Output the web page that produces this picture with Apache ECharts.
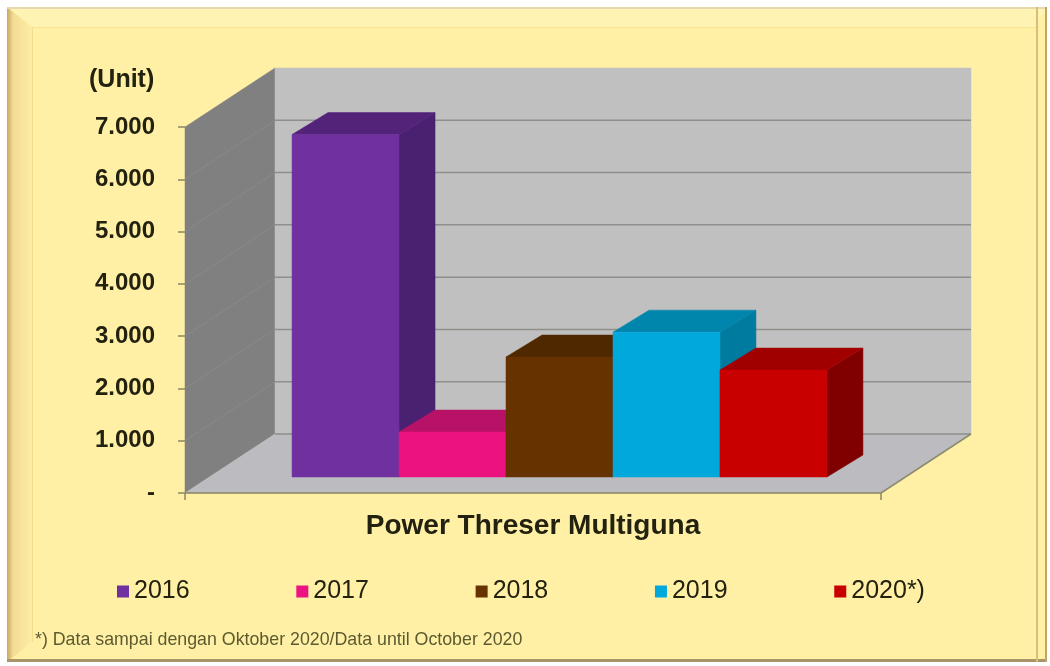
<!DOCTYPE html>
<html>
<head>
<meta charset="utf-8">
<style>html,body{margin:0;padding:0;background:#fff}#c{width:1050px;height:666px}</style>
<script src="https://cdn.jsdelivr.net/npm/echarts@6/dist/echarts.min.js"></script>
</head>
<body>
<div id="c"></div>
<script>
var categories = ['Power Threser Multiguna'];
var years = ['2016', '2017', '2018', '2019', '2020*)'];
var values = [6550, 860, 2295, 2770, 2045];
var frontColors = ['#7030A0', '#EC1280', '#663300', '#00A8DC', '#C80000'];
var topColors = ['#53237A', '#B81268', '#4F2800', '#0085AC', '#A00000'];
var sideColors = ['#4A2070', '#8A0E50', '#4A2500', '#007BA0', '#800000'];
var yTickValues = [0, 1000, 2000, 3000, 4000, 5000, 6000, 7000];
var yTickLabels = ['-', '1.000', '2.000', '3.000', '4.000', '5.000', '6.000', '7.000'];
var unitLabel = '(Unit)';
var footnote = '*) Data sampai dengan Oktober 2020/Data until October 2020';

var DEPTH_X = 90, DEPTH_Y = -59;          // wall depth
var BAR_OFF_X = 26.5, BAR_OFF_Y = -16;    // bar front plane offset from chart front plane
var BAR_DX = 36, BAR_DY = -22;            // bar depth
var BAR_FRAC = 0.1537;                    // bar width as fraction of the band

function poly(points, fill, stroke) {
  return { type: 'polygon', shape: { points: points }, style: { fill: fill, stroke: stroke || fill, lineWidth: stroke ? 1 : 0.5 } };
}
function line(x1, y1, x2, y2, stroke, w) {
  return { type: 'line', shape: { x1: x1, y1: y1, x2: x2, y2: y2 }, style: { stroke: stroke, lineWidth: w || 1.5 } };
}

function renderWalls(params, api) {
  var band = api.size([1, 0])[0];
  var c = api.coord([0, 0]);
  var l = c[0] - band / 2, r = c[0] + band / 2, y0 = c[1];
  var yT = api.coord([0, yTickValues[yTickValues.length - 1]])[1];
  var kids = [];
  kids.push(poly([[l, y0], [l + DEPTH_X, y0 + DEPTH_Y], [l + DEPTH_X, yT + DEPTH_Y], [l, yT]], '#808080'));
  kids.push(poly([[l + DEPTH_X, y0 + DEPTH_Y], [r + DEPTH_X, y0 + DEPTH_Y], [r + DEPTH_X, yT + DEPTH_Y], [l + DEPTH_X, yT + DEPTH_Y]], '#C0C0C0'));
  kids.push(poly([[l, y0], [r, y0], [r + DEPTH_X, y0 + DEPTH_Y], [l + DEPTH_X, y0 + DEPTH_Y]], '#BBBBC0'));
  yTickValues.forEach(function (v, idx) {
    var y = api.coord([0, v])[1];
    if (v > 0 && idx < yTickValues.length - 1) kids.push(line(l, y, l + DEPTH_X, y + DEPTH_Y, '#8B8B8B', 0.8));
    if (idx < yTickValues.length - 1) kids.push(line(l + DEPTH_X, y + DEPTH_Y, r + DEPTH_X, y + DEPTH_Y, '#8E8E8A', 1.5));
  });
  kids.push(line(l, y0, r, y0, '#8C8660', 1.5));
  kids.push(line(r, y0, r + DEPTH_X, y0 + DEPTH_Y, '#8C8C70', 1.5));
  return { type: 'group', children: kids };
}

function makeBarRenderer(i) {
  return function (params, api) {
    var band = api.size([1, 0])[0];
    var w = band * BAR_FRAC;
    var top = api.coord([api.value(0), api.value(1)]);
    var bot = api.coord([api.value(0), 0]);
    var x0 = top[0] + BAR_OFF_X + (i - (years.length - 1) / 2 - 0.5) * w;
    var x1 = x0 + w;
    var yT = top[1] + BAR_OFF_Y, yB = bot[1] + BAR_OFF_Y;
    return {
      type: 'group',
      children: [
        poly([[x1, yB], [x1 + BAR_DX, yB + BAR_DY], [x1 + BAR_DX, yT + BAR_DY], [x1, yT]], sideColors[i]),
        poly([[x0, yT], [x1, yT], [x1 + BAR_DX, yT + BAR_DY], [x0 + BAR_DX, yT + BAR_DY]], topColors[i]),
        poly([[x0, yB], [x1, yB], [x1, yT], [x0, yT]], frontColors[i])
      ]
    };
  };
}

var series = [{
  type: 'custom', name: 'walls', silent: true, z: 1,
  renderItem: renderWalls, data: [[0, 0]],
  encode: { x: 0, y: 1 }, itemStyle: { color: '#C0C0C0' }
}];
years.forEach(function (y, i) {
  series.push({
    type: 'custom', name: y, z: 2,
    renderItem: makeBarRenderer(i),
    data: [[0, values[i]]],
    encode: { x: 0, y: 1 },
    itemStyle: { color: frontColors[i] }
  });
});

var W = 1050, H = 666;
var textDark = '#23210F';
var chart = echarts.init(document.getElementById('c'), null, { renderer: 'canvas', width: W, height: H });
chart.setOption({
  animation: false,
  backgroundColor: '#FFFFFF',
  graphic: [
    { type: 'rect', z: -10, shape: { x: 7, y: 7, width: 1040, height: 655 }, style: { fill: '#FFF0A6' } },
    { type: 'polygon', z: -9, shape: { points: [[7, 7], [1047, 7], [1035, 27], [32, 27]] }, style: { fill: '#FFF3B4' } },
    { type: 'polygon', z: -9, shape: { points: [[7, 7], [32, 27], [32, 642], [7, 662]] },
      style: { fill: new echarts.graphic.LinearGradient(0, 0, 1, 0, [{ offset: 0, color: '#C9A764' }, { offset: 0.25, color: '#F3DC94' }, { offset: 1, color: '#FDEDA4' }]) } },
    { type: 'rect', z: -9, shape: { x: 7, y: 7, width: 1040, height: 2 }, style: { fill: '#E6D9B0' } },
    { type: 'rect', z: -9, shape: { x: 7, y: 659, width: 1040, height: 3 }, style: { fill: '#A89468' } },
    { type: 'rect', z: -9, shape: { x: 1036, y: 7, width: 2, height: 655 }, style: { fill: '#D6BF78' } },
    { type: 'rect', z: -9, shape: { x: 1045, y: 7, width: 2, height: 655 }, style: { fill: '#BFA56C' } },
    { type: 'rect', z: -9, shape: { x: 32, y: 27, width: 1004, height: 1 }, style: { fill: '#F7E498' } },
    { type: 'rect', z: -9, shape: { x: 32, y: 27, width: 1, height: 615 }, style: { fill: '#F3DC8C' } }
  ],
  title: [
    { text: unitLabel, left: 84, top: 63, textStyle: { fontFamily: 'Liberation Sans', fontWeight: 'bold', fontSize: 25, color: textDark } },
    { text: footnote, left: 30, top: 626, textStyle: { fontFamily: 'Liberation Sans', fontWeight: 'normal', fontSize: 17.8, color: '#5C5A30' } }
  ],
  grid: { left: 185, right: 169, top: 127, bottom: 173, containLabel: false },
  xAxis: {
    type: 'category', data: categories,
    axisLine: { show: false },
    axisTick: { show: true, length: 7, lineStyle: { color: '#8C8660', width: 1.5 } },
    axisLabel: { margin: 19, fontFamily: 'Liberation Sans', fontWeight: 'bold', fontSize: 28, color: textDark }
  },
  yAxis: {
    type: 'value', min: 0, max: 7000, interval: 1000,
    axisLine: { show: false },
    axisTick: { show: true, length: 7, lineStyle: { color: '#8C8660', width: 1.5 } },
    splitLine: { show: false },
    axisLabel: {
      margin: 30, fontFamily: 'Liberation Sans', fontWeight: 'bold', fontSize: 24, color: textDark,
      formatter: function (v) { return yTickLabels[yTickValues.indexOf(v)]; }
    }
  },
  legend: {
    show: true, data: years, left: 112, top: 574, orient: 'horizontal',
    icon: 'rect', itemWidth: 12, itemHeight: 12, itemGap: 106.7,
    textStyle: { fontFamily: 'Liberation Sans', fontSize: 25, color: textDark }
  },
  series: series
});
</script>
</body>
</html>
